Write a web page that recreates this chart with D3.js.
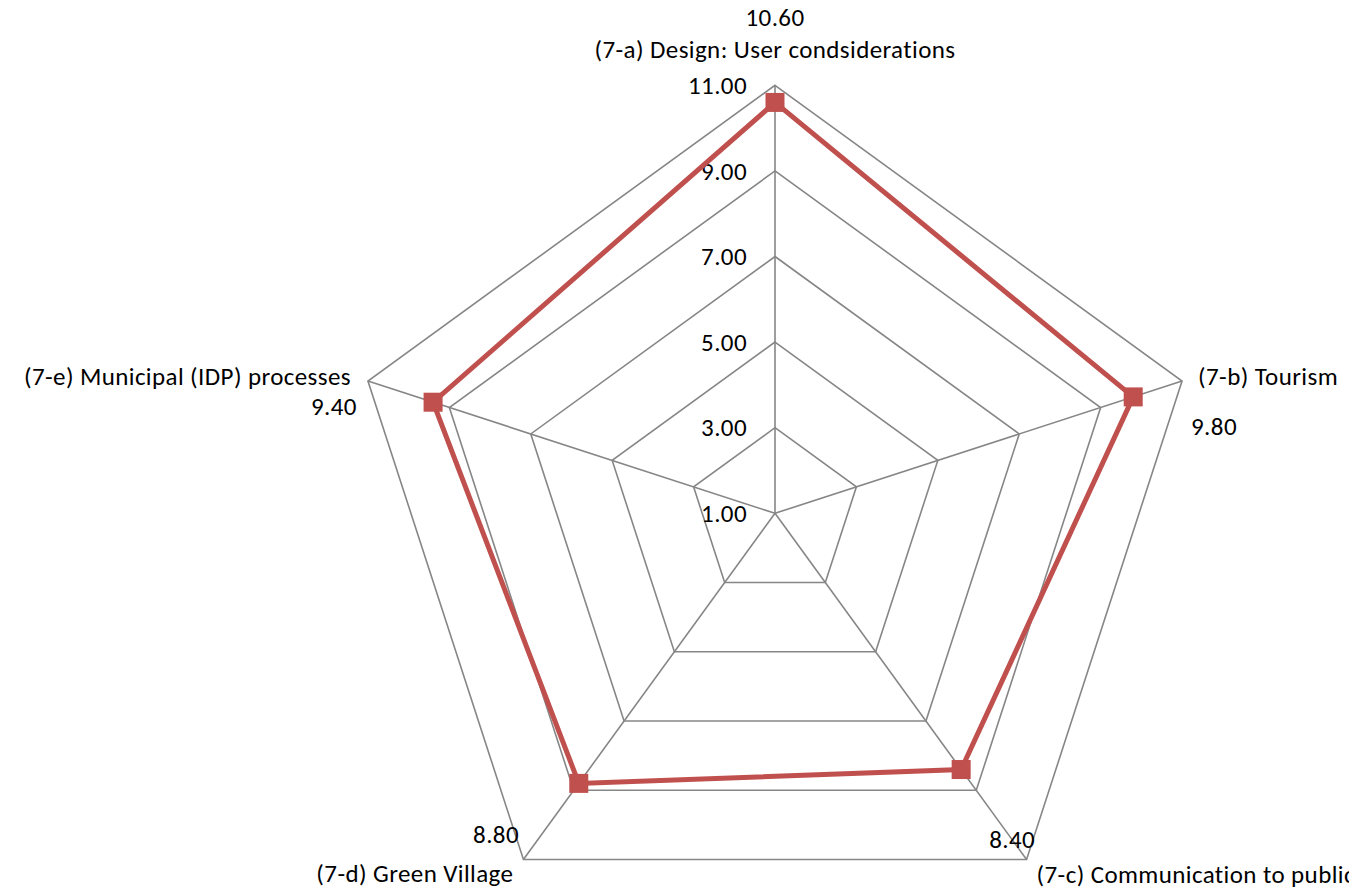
<!DOCTYPE html>
<html>
<head>
<meta charset="utf-8">
<script src="https://cdn.jsdelivr.net/npm/d3@7"></script>
<style>
  html, body { margin: 0; padding: 0; background: #fff; overflow: hidden; }
  svg { display: block; font-family: Carlito, Calibri, Lato, sans-serif; }
  text { letter-spacing: 0.4px; fill: #000; }
</style>
</head>
<body>
<svg id="chart" width="1349" height="889"></svg>
<script>
// Radar chart data
const categories = [
  "(7-a) Design: User condsiderations",
  "(7-b) Tourism",
  "(7-c) Communication to public",
  "(7-d) Green Village",
  "(7-e) Municipal (IDP) processes"
];
const values = [10.6, 9.8, 8.4, 8.8, 9.4];
const tickValues = [1, 3, 5, 7, 9, 11];

const svg = d3.select("#chart");
const cx = 775, cy = 513.3, R = 428;
const fontSize = 25;

const r = d3.scaleLinear().domain([1, 11]).range([0, R]);
const angle = d3.scaleLinear().domain([0, categories.length]).range([0, 2 * Math.PI]);
const pt = (i, v) => {
  const a = angle(i);
  return [cx + r(v) * Math.sin(a), cy - r(v) * Math.cos(a)];
};

const g = svg.append("g");

// Grid rings
const ring = d3.line().curve(d3.curveLinearClosed);
g.selectAll("path.ring").data(tickValues.slice(1)).join("path")
  .attr("class", "ring")
  .attr("d", t => ring(categories.map((c, i) => pt(i, t))))
  .attr("fill", "none").attr("stroke", "#868686").attr("stroke-width", 1.6);

// Spokes
g.selectAll("line.spoke").data(categories).join("line")
  .attr("class", "spoke")
  .attr("x1", cx).attr("y1", cy)
  .attr("x2", (c, i) => pt(i, 11)[0]).attr("y2", (c, i) => pt(i, 11)[1])
  .attr("stroke", "#868686").attr("stroke-width", 1.6);

// Value axis tick labels along the first spoke
g.selectAll("text.tick").data(tickValues).join("text")
  .attr("class", "tick")
  .attr("x", cx - 28)
  .attr("y", t => pt(0, t)[1])
  .attr("dy", "0.35em")
  .attr("text-anchor", "end")
  .attr("font-size", fontSize)
  .text(t => d3.format(".2f")(t));

// Series line
g.append("path")
  .attr("d", ring(values.map((v, i) => pt(i, v))))
  .attr("fill", "none").attr("stroke", "#C0504D").attr("stroke-width", 5)
  .attr("stroke-linejoin", "miter");

// Markers
const ms = 19;
g.selectAll("rect.marker").data(values).join("rect")
  .attr("class", "marker")
  .attr("x", (v, i) => pt(i, v)[0] - ms / 2)
  .attr("y", (v, i) => pt(i, v)[1] - ms / 2)
  .attr("width", ms).attr("height", ms)
  .attr("fill", "#C0504D");

// Category and value label placement relative to each outer vertex
const catLayout = [
  { dx: 0, dy: -27, anchor: "middle" },
  { dx: 16, dy: 4, anchor: "start" },
  { dx: 10, dy: 23, anchor: "start" },
  { dx: -10, dy: 22.5, anchor: "end" },
  { dx: -17, dy: 4, anchor: "end" }
];
const valLayout = [
  { dx: 0, dy: -59, anchor: "middle" },
  { dx: 9, dy: 54, anchor: "start" },
  { dx: 8.5, dy: -11.6, anchor: "end" },
  { dx: -4.4, dy: -16.6, anchor: "end" },
  { dx: -11, dy: 34, anchor: "end" }
];

categories.forEach((c, i) => {
  const [x, y] = pt(i, 11);
  g.append("text")
    .attr("x", x + catLayout[i].dx).attr("y", y + catLayout[i].dy)
    .attr("text-anchor", catLayout[i].anchor)
    .attr("font-size", fontSize)
    .text(c);
  g.append("text")
    .attr("x", x + valLayout[i].dx).attr("y", y + valLayout[i].dy)
    .attr("text-anchor", valLayout[i].anchor)
    .attr("font-size", fontSize)
    .text(d3.format(".2f")(values[i]));
});
</script>
</body>
</html>
